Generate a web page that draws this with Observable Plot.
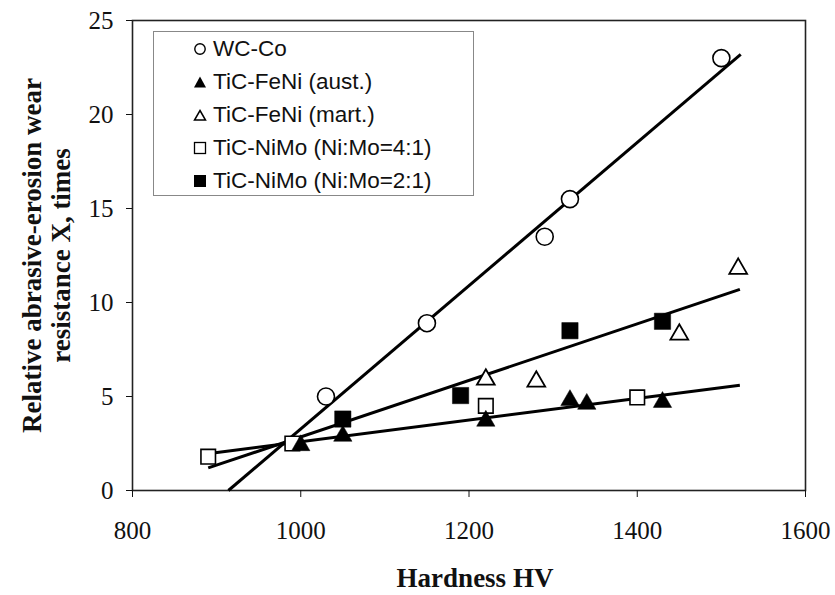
<!DOCTYPE html>
<html>
<head>
<meta charset="utf-8">
<script src="https://cdn.jsdelivr.net/npm/d3@7"></script>
<script src="https://cdn.jsdelivr.net/npm/@observablehq/plot@0.6"></script>
<style>
  html, body { margin: 0; padding: 0; background: #fff; }
  #wrap { position: relative; width: 835px; height: 595px; }
  #legend {
    position: absolute; left: 153px; top: 31px; width: 321px; height: 165px;
    border: 1px solid #888; box-sizing: border-box; background: #fff;
    font-family: "Liberation Sans", Arial, sans-serif; font-size: 22.5px; color: #111;
    padding-left: 39px;
  }
  #legend .row { height: 33px; line-height: 33px; white-space: nowrap; display: flex; align-items: center; }
  #legend svg { width: 14px; height: 14px; margin-right: 6px; flex: none; }
</style>
</head>
<body>
<div id="wrap">
  <div id="chart"></div>
  <div id="legend"></div>
</div>
<script>
// ---- data ----
const seriesNames = ["WC-Co", "TiC-FeNi (aust.)", "TiC-FeNi (mart.)", "TiC-NiMo (Ni:Mo=4:1)", "TiC-NiMo (Ni:Mo=2:1)"];

const wcCoX = [1030, 1150, 1290, 1320, 1500];
const wcCoY = [5.0, 8.9, 13.5, 15.5, 23.0];

const feNiAustX = [1000, 1050, 1220, 1320, 1340, 1430];
const feNiAustY = [2.4, 2.9, 3.7, 4.8, 4.6, 4.7];

const feNiMartX = [1220, 1280, 1450, 1520];
const feNiMartY = [5.9, 5.8, 8.3, 11.8];

const niMo41X = [890, 990, 1220, 1400];
const niMo41Y = [1.8, 2.5, 4.5, 4.95];

const niMo21X = [1050, 1190, 1320, 1430];
const niMo21Y = [3.8, 5.05, 8.5, 9.0];

// fitted trend lines (end points)
const trendAX = [914, 1523];
const trendAY = [0, 23.2];
const trendBX = [890, 1522];
const trendBY = [1.2, 10.7];
const trendCX = [896, 1522];
const trendCY = [2.0, 5.6];

const xTicks = [800, 1000, 1200, 1400, 1600];
const yTicks = [0, 5, 10, 15, 20, 25];

const xTitle = "Hardness HV";
const yTitle = "Relative abrasive-erosion wear\nresistance X, times";

// ---- build tables ----
const pts = (xs, ys) => xs.map((x, i) => ({x, y: ys[i]}));
const wcCo = pts(wcCoX, wcCoY);
const feNiAust = pts(feNiAustX, feNiAustY);
const feNiMart = pts(feNiMartX, feNiMartY);
const niMo41 = pts(niMo41X, niMo41Y);
const niMo21 = pts(niMo21X, niMo21Y);
const trendA = pts(trendAX, trendAY);
const trendB = pts(trendBX, trendBY);
const trendC = pts(trendCX, trendCY);

const lineStyle = {x: "x", y: "y", stroke: "#000", strokeWidth: 3, strokeLinecap: "butt"};

const chart = Plot.plot({
  width: 835,
  height: 595,
  marginLeft: 132,
  marginRight: 30,
  marginTop: 20,
  marginBottom: 105,
  style: {fontFamily: "'Liberation Serif', 'Times New Roman', serif", fontSize: "25px", color: "#111", background: "#fff"},
  x: {domain: [800, 1600]},
  y: {domain: [0, 25]},
  marks: [
    Plot.frame({stroke: "#222", strokeWidth: 1.6}),
    Plot.axisY({ticks: yTicks, tickSize: 6, tickPadding: 13, tickFormat: d => String(d), label: null, fontSize: 25}),
    Plot.axisX({ticks: xTicks, tickSize: 7, tickPadding: 24, tickFormat: d => String(d), label: null, fontSize: 25}),
    Plot.line(trendA, lineStyle),
    Plot.line(trendB, lineStyle),
    Plot.line(trendC, lineStyle),
    Plot.dot(wcCo, {x: "x", y: "y", symbol: "circle", r: 8.5, fill: "#fff", stroke: "#000", strokeWidth: 1.6}),
    Plot.dot(niMo41, {x: "x", y: "y", symbol: "square", r: 8.2, fill: "#fff", stroke: "#000", strokeWidth: 1.6}),
    Plot.dot(feNiMart, {x: "x", y: "y", symbol: "triangle", r: 6.6, fill: "#fff", stroke: "#000", strokeWidth: 1.8}),
    Plot.dot(feNiAust, {x: "x", y: "y", symbol: "triangle", r: 6.8, fill: "#000", stroke: "#000", strokeWidth: 0.5}),
    Plot.dot(niMo21, {x: "x", y: "y", symbol: "square", r: 9.2, fill: "#000", stroke: "#000", strokeWidth: 0.5}),
    Plot.text([xTitle], {text: d => d, frameAnchor: "bottom", dy: 88, dx: 6, fontWeight: "bold", fontSize: 27, lineAnchor: "middle", fill: "#111"}),
    Plot.text([yTitle], {text: d => d, frameAnchor: "left", dx: -86, rotate: -90, fontWeight: "bold", fontSize: 27, lineHeight: 1.05, lineAnchor: "middle", textAnchor: "middle", fill: "#111"})
  ]
});
document.getElementById("chart").appendChild(chart);

// ---- legend (HTML overlay inside the plot area) ----
const legendSymbols = [
  '<circle cx="7" cy="7" r="5.2" fill="#fff" stroke="#000" stroke-width="1.4"/>',
  '<path d="M7 1.5 L13 12.5 L1 12.5 Z" fill="#000"/>',
  '<path d="M7 2.5 L12.5 12 L1.5 12 Z" fill="#fff" stroke="#000" stroke-width="1.5"/>',
  '<rect x="1.5" y="1.5" width="11" height="11" fill="#fff" stroke="#000" stroke-width="1.3"/>',
  '<rect x="1" y="1" width="12" height="12" fill="#000"/>'
];
const legend = document.getElementById("legend");
seriesNames.forEach((name, i) => {
  const row = document.createElement("div");
  row.className = "row";
  row.innerHTML = `<svg viewBox="0 0 14 14">${legendSymbols[i]}</svg><span></span>`;
  row.querySelector("span").textContent = name;
  legend.appendChild(row);
});
</script>
</body>
</html>
